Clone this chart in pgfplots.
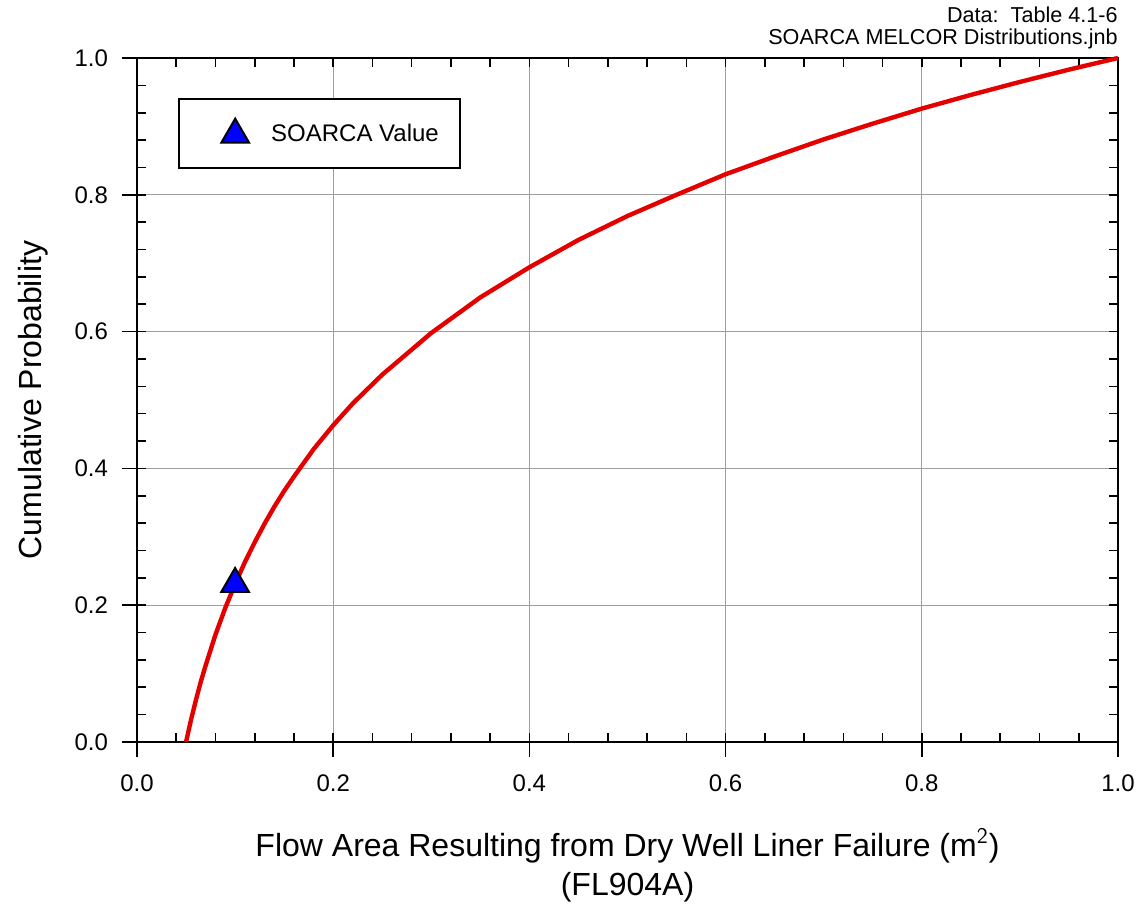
\documentclass[border=0pt]{standalone}
\usepackage{pgfplots}
\pgfplotsset{compat=1.18}
\usepackage{fontspec}
\setmainfont{Liberation Sans}

\pgfplotstableread{
x      p
0.050  0.000
0.055  0.032
0.060  0.061
0.065  0.088
0.070  0.112
0.080  0.157
0.090  0.196
0.100  0.231
0.110  0.263
0.120  0.292
0.130  0.319
0.140  0.344
0.150  0.367
0.160  0.388
0.180  0.428
0.200  0.463
0.220  0.495
0.250  0.537
0.300  0.598
0.350  0.650
0.400  0.694
0.450  0.734
0.500  0.769
0.550  0.800
0.600  0.830
0.650  0.856
0.700  0.881
0.750  0.904
0.800  0.926
0.850  0.946
0.900  0.965
0.950  0.983
1.000  1.000
}\cdf

\begin{document}
\begin{tikzpicture}
\begin{axis}[
  scale only axis,
  width=490.5pt, height=342pt,
  xmin=0, xmax=1, ymin=0, ymax=1,
  clip=false,
  xtick={0,0.2,...,1.01}, ytick={0,0.2,...,1.01},
  minor x tick num=4, minor y tick num=4,
  tick align=inside,
  major tick length=4.5pt, minor tick length=4.5pt,
  tick style={black, line width=0.8pt},
  extra x ticks={0,0.2,0.4,0.6,0.8,1},
  extra y ticks={0,0.2,0.4,0.6,0.8,1},
  extra x tick labels={}, extra y tick labels={},
  extra x tick style={tick align=outside, major tick length=7.5pt, grid=none, xtick pos=bottom},
  extra y tick style={tick align=outside, major tick length=7.5pt, grid=none, ytick pos=left},
  grid=major,
  major grid style={gray!75, line width=0.6pt},
  axis line style={black, line width=1pt},
  /pgf/number format/assume math mode=true,
  /pgf/number format/.cd, fixed, fixed zerofill, precision=1, /pgfplots/.cd,
  ticklabel style={font=\fontsize{12}{14}\selectfont},
  xticklabel style={yshift=-13pt},
  yticklabel style={xshift=-11pt},
  xlabel={Flow Area Resulting from Dry Well Liner Failure (m$^{\mathsf{2}}$)\\(FL904A)},
  xlabel style={font=\fontsize{16}{19.5}\selectfont, align=center, yshift=-4pt},
  ylabel={Cumulative Probability},
  ylabel style={font=\fontsize{16}{19}\selectfont, yshift=-1pt},
  legend style={at={(0.042,0.942)}, anchor=north west, draw=black, line width=1pt,
    font=\fontsize{12}{14}\selectfont, inner xsep=10.5pt, inner ysep=10pt,
    nodes={inner sep=0pt}},
  legend image code/.code={%
    \path (0pt,-6pt) (34.5pt,6pt);
    \draw[#1] plot coordinates {(17pt,0pt)};},
  legend cell align=left,
]
\addplot[red!90!black, line width=2.2pt, forget plot] table[x=x, y=p] {\cdf};
\addplot[only marks, mark=triangle*, mark size=8pt,
  mark options={fill=blue, draw=black, line width=1pt}]
  coordinates {(0.1,0.231)};
\addlegendentry{SOARCA Value}
\node[anchor=south east, align=right, inner sep=0pt, yshift=4.3pt,
  font=\fontsize{10.8}{11.2}\selectfont] at (rel axis cs:1,1)
  {Data:\ \ Table 4.1-6\\SOARCA MELCOR Distributions.jnb};
\end{axis}
\path ([shift={(-68.5pt,-80.5pt)}]current axis.south west)
      ([shift={(12.5pt,29pt)}]current axis.north east);
\end{tikzpicture}
\end{document}
